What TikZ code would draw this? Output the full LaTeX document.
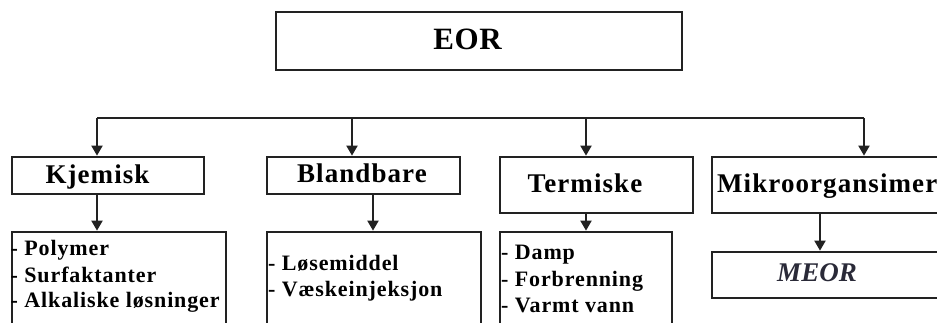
\documentclass[tikz,border=0pt]{standalone}
\usepackage{fontspec}
\setmainfont{Liberation Serif}
\usetikzlibrary{arrows.meta}
\definecolor{ln}{HTML}{222222}
\definecolor{meorc}{HTML}{2A2A38}
\tikzset{
  box/.style={draw=ln, line width=2.7pt, inner sep=0pt, rectangle},
  conn/.style={draw=ln, line width=2pt},
  arr/.style={conn, -{Triangle[width=11pt,length=10pt]}},
  title/.style={font=\fontsize{27}{30}\selectfont\bfseries\addfontfeature{LetterSpace=4}, inner sep=0pt, anchor=base},
  item/.style={font=\fontsize{22}{26}\selectfont\bfseries\addfontfeature{LetterSpace=4}, inner sep=0pt, anchor=base west},
}
\begin{document}
\begin{tikzpicture}[x=1pt,y=-1pt]
\useasboundingbox (0,0) rectangle (937,323);
\clip (0,0) rectangle (937,323);
% top
\node[box, minimum width=406pt, minimum height=58pt] (eor) at (479,41) {};
\node[title, font=\fontsize{31}{34}\selectfont\bfseries\addfontfeature{LetterSpace=2}] (eort) at (467.5,50) {EOR};
% level 2 boxes
\node[box, minimum width=192pt, minimum height=37pt] (kj) at (108,175.5) {};
\node[box, minimum width=193pt, minimum height=37pt] (bl) at (363.5,175.5) {};
\node[box, minimum width=193pt, minimum height=56pt] (te) at (596.5,185) {};
\node[box, minimum width=248pt, minimum height=56pt] (mi) at (836,185) {};
\node[title] (kjt) at (97.5,184) {Kjemisk};
\node[title] (blt) at (362,183) {Blandbare};
\node[title] (tet) at (585,193) {Termiske};
\node[title, anchor=base west] (mit) at (717,193) {Mikroorgansimer};
% level 3 boxes
\node[box, minimum width=214pt, minimum height=113pt] (kjl) at (119,288.5) {};
\node[box, minimum width=214pt, minimum height=113pt] (bll) at (374,288.5) {};
\node[box, minimum width=172pt, minimum height=113pt] (tel) at (586,288.5) {};
\node[box, minimum width=248pt, minimum height=46pt] (me) at (836,275) {};
\node[title, font=\fontsize{27}{30}\selectfont\bfseries\itshape, text=meorc] (met) at (817,281) {MEOR};
% items
\node[item] (k1) at (10.5,255) {- Polymer};
\node[item] (k2) at (10.5,282) {- Surfaktanter};
\node[item] (k3) at (10.5,307) {- Alkaliske løsninger};
\node[item] (b1t) at (268,270) {- Løsemiddel};
\node[item] (b2t) at (268,296) {- Væskeinjeksjon};
\node[item] (t1) at (501,259) {- Damp};
\node[item] (t2) at (501,286) {- Forbrenning};
\node[item] (t3) at (501,312) {- Varmt vann};
% bus
\coordinate (c1) at (97,118);
\coordinate (c2) at (352,118);
\coordinate (c3) at (586,118);
\coordinate (c4) at (864,118);
\draw[conn] (c1) -- (c4);
\draw[arr] (c1) -- (c1 |- kj.north);
\draw[arr] (c2) -- (c2 |- bl.north);
\draw[arr] (c3) -- (c3 |- te.north);
\draw[arr] (c4) -- (c4 |- mi.north);
% level 2 to 3
\coordinate (d1) at (97,194);
\coordinate (d2) at (373,194);
\coordinate (d3) at (586,213);
\coordinate (d4) at (820,213);
\draw[arr] (d1) -- (d1 |- kjl.north);
\draw[arr] (d2) -- (d2 |- bll.north);
\draw[arr] (d3) -- (d3 |- tel.north);
\draw[arr] (d4) -- (d4 |- me.north);
\end{tikzpicture}
\end{document}
